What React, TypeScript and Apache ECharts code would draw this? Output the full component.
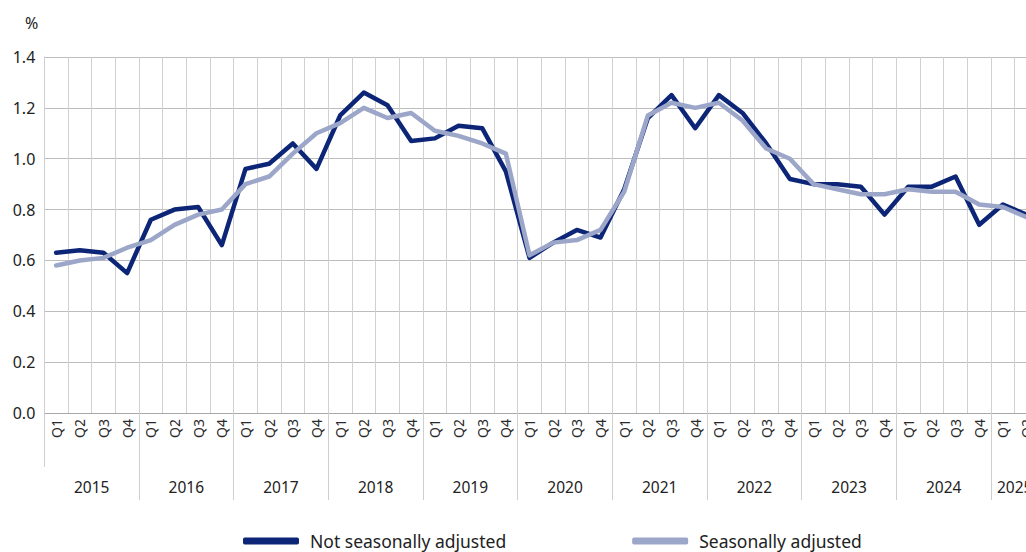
import React, { useEffect, useRef } from "react";
import * as echarts from "echarts";

const years = ["2015", "2016", "2017", "2018", "2019", "2020", "2021", "2022", "2023", "2024", "2025"];
const quarterNames = ["Q1", "Q2", "Q3", "Q4"];
const quarterCount = 42;

const notSeasonallyAdjusted = [
  0.63, 0.64, 0.63, 0.55,
  0.76, 0.8, 0.81, 0.66,
  0.96, 0.98, 1.06, 0.96,
  1.17, 1.26, 1.21, 1.07,
  1.08, 1.13, 1.12, 0.95,
  0.61, 0.67, 0.72, 0.69,
  0.88, 1.16, 1.25, 1.12,
  1.25, 1.18, 1.06, 0.92,
  0.9, 0.9, 0.89, 0.78,
  0.89, 0.89, 0.93, 0.74,
  0.82, 0.78,
];

const seasonallyAdjusted = [
  0.58, 0.6, 0.61, 0.65,
  0.68, 0.74, 0.78, 0.8,
  0.9, 0.93, 1.02, 1.1,
  1.14, 1.2, 1.16, 1.18,
  1.11, 1.09, 1.06, 1.02,
  0.62, 0.67, 0.68, 0.72,
  0.87, 1.17, 1.22, 1.2,
  1.22, 1.15, 1.04, 1.0,
  0.9, 0.88, 0.86, 0.86,
  0.88, 0.87, 0.87, 0.82,
  0.81, 0.77,
];

const yTicks = [0, 0.2, 0.4, 0.6, 0.8, 1.0, 1.2, 1.4];

const FONT = "'Noto Sans', sans-serif";

export default function App() {
  const ref = useRef<HTMLDivElement>(null);

  useEffect(() => {
    if (!ref.current) return;
    const chart = echarts.init(ref.current, undefined, { renderer: "svg" });

    const quarterLabels: string[] = [];
    for (let i = 0; i < quarterCount; i++) quarterLabels.push(quarterNames[i % 4]);

    const yearCentres: number[] = [];
    const yearBounds: number[] = [];
    years.forEach((_, k) => {
      const start = k * 4;
      const end = Math.min(start + 4, quarterCount);
      yearCentres.push((start + end) / 2);
      if (k > 0) yearBounds.push(start);
    });

    chart.setOption({
      animation: false,
      backgroundColor: "#ffffff",
      textStyle: { fontFamily: FONT },
      title: {
        text: "%",
        left: 20,
        top: 10,
        textStyle: { fontSize: 16, fontWeight: "normal", color: "#222", fontFamily: FONT },
      },
      legend: {
        left: 238,
        top: 527,
        itemWidth: 56,
        itemHeight: 7,
        itemGap: 126,
        icon: "roundRect",
        textStyle: { fontSize: 17.5, color: "#222", fontFamily: FONT, padding: [0, 0, 0, 6] },
        data: ["Not seasonally adjusted", "Seasonally adjusted"],
      },
      grid: { left: 44.3, right: 1.6, top: 57, bottom: 139 },
      xAxis: [
        {
          type: "category",
          data: quarterLabels,
          boundaryGap: true,
          position: "bottom",
          axisLine: { show: true, lineStyle: { color: "#a8a8a8", width: 1 } },
          axisTick: { show: false },
          axisLabel: {
            interval: 0,
            rotate: 90,
            margin: 6,
            fontSize: 14,
            color: "#2a2a2a",
            fontFamily: FONT,
          },
          splitLine: { show: true, interval: 0, lineStyle: { color: "#d0d0d0", width: 1 } },
        },
        {
          type: "value",
          min: 0,
          max: quarterCount,
          position: "bottom",
          axisLine: { show: false },
          splitLine: { show: false },
          axisTick: {
            show: true,
            customValues: yearBounds,
            length: 87,
            inside: false,
            lineStyle: { color: "#cfcfcf", width: 1 },
          },
          axisLabel: {
            show: true,
            customValues: yearCentres,
            margin: 66,
            fontSize: 15.5,
            color: "#222",
            fontFamily: FONT,
            formatter: (v: number) => {
              const idx = yearCentres.findIndex((c) => Math.abs(c - v) < 1e-6);
              return idx >= 0 ? years[idx] : "";
            },
          },
        },
        {
          type: "value",
          min: 0,
          max: quarterCount,
          position: "bottom",
          axisLine: { show: false },
          splitLine: { show: false },
          axisLabel: { show: false },
          axisTick: {
            show: true,
            customValues: [0],
            length: 54,
            inside: false,
            lineStyle: { color: "#cfcfcf", width: 1 },
          },
        },
      ],
      yAxis: {
        type: "value",
        min: 0,
        max: 1.4,
        interval: 0.2,
        axisLine: { show: true, lineStyle: { color: "#cfcfcf" } },
        axisTick: { show: false },
        axisLabel: {
          margin: 9,
          fontSize: 16,
          color: "#222",
          fontFamily: FONT,
          formatter: (v: number) => {
            const t = yTicks.find((y) => Math.abs(y - v) < 1e-6);
            return (t !== undefined ? t : v).toFixed(1);
          },
        },
        splitLine: { show: true, lineStyle: { color: "#bdbdbd", width: 1 } },
      },
      series: [
        {
          name: "Not seasonally adjusted",
          type: "line",
          xAxisIndex: 0,
          data: notSeasonallyAdjusted,
          showSymbol: false,
          symbol: "none",
          itemStyle: { color: "#0c2577" },
          lineStyle: { color: "#0c2577", width: 4.5, cap: "round", join: "round" },
        },
        {
          name: "Seasonally adjusted",
          type: "line",
          xAxisIndex: 0,
          data: seasonallyAdjusted,
          showSymbol: false,
          symbol: "none",
          itemStyle: { color: "#9ba6c9" },
          lineStyle: { color: "#9ba6c9", width: 4.5, cap: "round", join: "round" },
        },
      ],
    });

    return () => chart.dispose();
  }, []);

  return (
    <div
      style={{
        position: "fixed",
        left: 0,
        top: 0,
        width: 1026,
        height: 552,
        overflow: "hidden",
        background: "#fff",
      }}
    >
      <div ref={ref} style={{ width: 1040, height: 552 }} />
    </div>
  );
}
